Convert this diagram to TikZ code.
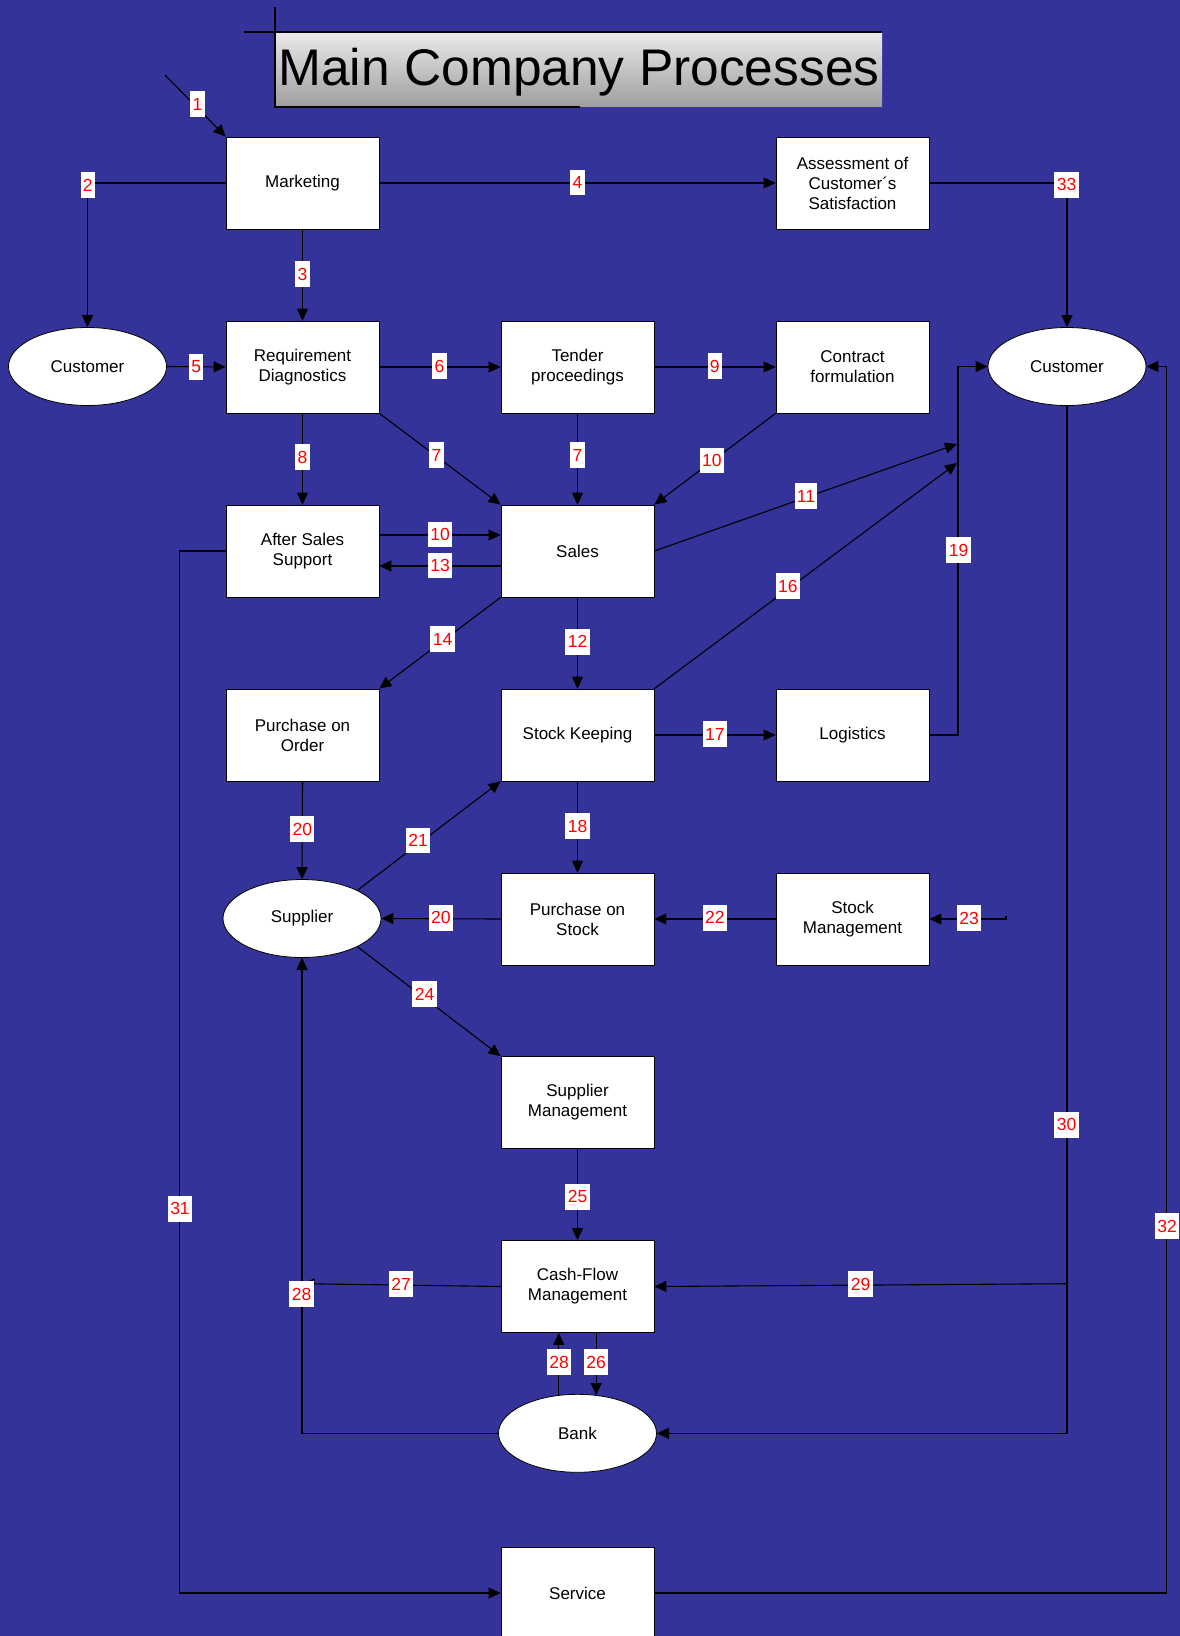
\documentclass[tikz,border=0pt]{standalone}
\usepackage{fontspec}
\setmainfont{Liberation Sans}
\usetikzlibrary{arrows.meta,shapes.geometric}
\definecolor{bgblue}{RGB}{51,51,153}
\definecolor{ttop}{RGB}{234,234,234}
\definecolor{tbot}{RGB}{158,158,158}
\begin{document}
\begin{tikzpicture}[x=1pt,y=-1pt,
  proc/.style={rectangle,draw=black,line width=0.8pt,fill=white,minimum width=153pt,minimum height=92pt,inner sep=0pt,align=center,font=\fontsize{17}{20}\selectfont},
  ext/.style={ellipse,draw=black,line width=0.8pt,fill=white,minimum width=158pt,minimum height=78pt,inner sep=0pt,font=\fontsize{17}{20}\selectfont},
  conn/.style={line width=1.1pt,draw=black},
  arr/.style={conn,-{Triangle[length=12pt,width=11pt]}},
  lbl/.style={fill=white,text=red,font=\fontsize{17.5}{20}\selectfont,inner xsep=2.3pt,inner ysep=0pt,minimum height=25.7pt},
  tline/.style={line width=1.6pt,draw=black},
]
\useasboundingbox (0,0) rectangle (1180,1636);
\fill[bgblue] (0,0) rectangle (1180,1636);

% title
\node[rectangle,top color=ttop,bottom color=tbot,minimum width=607pt,minimum height=74.4pt,inner sep=0pt] (tbox) at (578.5,69.5) {};
\node[anchor=base,inner sep=0pt,font=\fontsize{51.5}{60}\selectfont] (title) at (579,85) {Main Company Processes};
\draw[tline] ([xshift=-31pt]tbox.north west) -- (tbox.north east);
\draw[tline] ([yshift=25pt]tbox.north west) -- (tbox.south west) -- ++(305,0);

% nodes
\node[proc] (mkt) at (302.5,183) {Marketing};
\node[proc] (ass) at (852.5,183) {Assessment of\\Customer´s\\Satisfaction};
\node[ext]  (cl)  at (87.5,366.5) {Customer};
\node[ext]  (cr)  at (1067,366.5) {Customer};
\node[proc] (rd)  at (302.5,367) {Requirement\\Diagnostics};
\node[proc] (ten) at (577.5,367) {Tender\\proceedings};
\node[proc] (con) at (852.5,367) {Contract\\formulation};
\node[proc] (as)  at (302.5,551) {After Sales\\Support};
\node[proc] (sal) at (577.5,551) {Sales};
\node[proc] (po)  at (302.5,735) {Purchase on\\Order};
\node[proc] (sk)  at (577.5,735) {Stock Keeping};
\node[proc] (log) at (852.5,735) {Logistics};
\node[ext]  (sup) at (302,918.5) {Supplier};
\node[proc] (ps)  at (577.5,919) {Purchase on\\Stock};
\node[proc] (smg) at (852.5,919) {Stock\\Management};
\node[proc] (spm) at (577.5,1102.5) {Supplier\\Management};
\node[proc] (cf)  at (577.5,1286.5) {Cash-Flow\\Management};
\node[ext]  (bank) at (577.5,1433.3) {Bank};
\node[proc] (svc) at (577.5,1593) {Service};

% free ends
\coordinate (k1) at (165,75);
\coordinate (t11) at (957,444);
\coordinate (t16) at (957,463);
\coordinate (k19) at (958,735);
\coordinate (k23a) at (1006,915.5);
\coordinate (k23) at (1006,919);
\coordinate (k27) at (302.5,1283.7);
\coordinate (k29) at (1067,1283.7);

% connectors
\draw[arr] (k1) -- (mkt.north west);
\draw[arr] (mkt.west) -| (cl.north);
\draw[arr] (mkt.south) -- (rd.north);
\draw[arr] (mkt.east) -- (ass.west);
\draw[arr] (ass.east) -| (cr.north);
\draw[arr] (cl.east) -- (rd.west);
\draw[arr] (rd.east) -- (ten.west);
\draw[arr] (ten.east) -- (con.west);
\draw[arr] (rd.south east) -- (sal.north west);
\draw[arr] (ten.south) -- (sal.north);
\draw[arr] (con.south west) -- (sal.north east);
\draw[arr] (rd.south) -- (as.north);
\draw[arr] ([yshift=16pt]as.east) -- ([yshift=16pt]sal.west);
\draw[arr] ([yshift=-15pt]sal.west) -- ([yshift=-15pt]as.east);
\draw[arr] (sal.east) -- (t11);
\draw[arr] (sk.north east) -- (t16);
\draw[arr] (log.east) -- (k19) |- (cr.west);
\draw[arr] (sal.south) -- (sk.north);
\draw[arr] (sal.south west) -- (po.north east);
\draw[arr] (sk.east) -- (log.west);
\draw[arr] (sk.south) -- (ps.north);
\draw[arr] (po.south) -- (sup.north);
\draw[arr] (sup.27) -- (sk.south west);
\draw[arr] (ps.west) -- (sup.east);
\draw[arr] (smg.west) -- (ps.east);
\draw[arr] (k23a) -- (k23) -- (smg.east);
\draw[arr] (sup.-27) -- (spm.north west);
\draw[arr] (spm.south) -- (cf.north);
\draw[arr] (cf.west) -- (k27);
\draw[arr] (bank.west) -| (sup.south);
\draw[arr] (k29) -- (cf.east);
\draw[arr] (cr.south) |- (bank.east);
\draw[arr] (cf.south -| bank.64) -- (bank.64);
\draw[arr] (bank.116) -- (cf.south -| bank.116);
\draw[arr] (as.west) -- ++(-46,0) |- (svc.west);
\draw[arr] (svc.east) -- ++(512.5,0) |- (cr.east);

% labels
\node[lbl] (l1) at (197.5,104) {1};
\node[lbl] (l2) at (87.7,185) {2};
\node[lbl] (l3) at (302.5,274) {3};
\node[lbl] (l4) at (577.5,182.5) {4};
\node[lbl] (l33) at (1066.5,184.7) {33};
\node[lbl] (l5) at (196.3,366.7) {5};
\node[lbl] (l6) at (439.5,366) {6};
\node[lbl] (l9) at (714.7,366) {9};
\node[lbl] (l7a) at (436.5,455) {7};
\node[lbl] (l7b) at (577.5,455) {7};
\node[lbl] (l10a) at (711.8,460.5) {10};
\node[lbl] (l8) at (302.5,457) {8};
\node[lbl] (l10b) at (440,534.5) {10};
\node[lbl] (l13) at (440,565.5) {13};
\node[lbl] (l11) at (806,496) {11};
\node[lbl] (l16) at (787.8,586) {16};
\node[lbl] (l19) at (958.5,550) {19};
\node[lbl] (l12) at (577.5,641.7) {12};
\node[lbl] (l14) at (442.5,639) {14};
\node[lbl] (l17) at (714.8,734.3) {17};
\node[lbl] (l18) at (577.5,826) {18};
\node[lbl] (l20a) at (302.3,829) {20};
\node[lbl] (l21) at (418,840.5) {21};
\node[lbl] (l20b) at (440.8,917.7) {20};
\node[lbl] (l22) at (714.8,917.7) {22};
\node[lbl] (l23) at (969,918) {23};
\node[lbl] (l24) at (424.5,994) {24};
\node[lbl] (l25) at (577.5,1196.7) {25};
\node[lbl] (l27) at (401,1284) {27};
\node[lbl] (l28a) at (301.5,1294) {28};
\node[lbl] (l29) at (860.5,1284) {29};
\node[lbl] (l30) at (1066.5,1124.7) {30};
\node[lbl] (l26) at (596,1362) {26};
\node[lbl] (l28b) at (559,1362) {28};
\node[lbl] (l31) at (180,1208.7) {31};
\node[lbl] (l32) at (1167,1226) {32};
\end{tikzpicture}
\end{document}
